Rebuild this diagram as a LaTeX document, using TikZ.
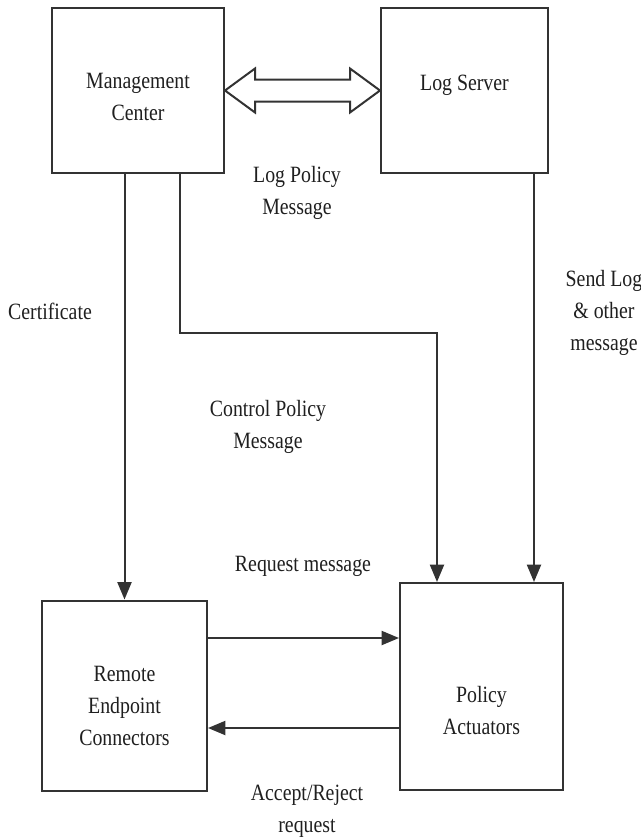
\documentclass[tikz,border=0pt]{standalone}
\usepackage{fontspec}
\setmainfont{Liberation Serif}[FakeStretch=0.85]
\usepackage{tikz}
\usetikzlibrary{arrows.meta,calc,positioning}
\definecolor{trazo}{rgb}{0.2,0.2,0.2}
\definecolor{tinta}{rgb}{0.12,0.12,0.12}
\tikzset{
  caja/.style={
    draw=trazo,
    line width=1.5pt,
    fill=white,
    inner sep=0pt
  },
  texto/.style={
    align=center,
    text=tinta,
    font=\fontsize{17.5}{24}\selectfont
  },
  flecha/.style={
    -{Triangle[length=13pt,width=10.5pt]},
    line width=1.5pt,
    trazo
  },
  doble/.style={
    draw=trazo,
    line width=1.5pt,
    fill=white,
    line join=miter
  }
}

\begin{document}
\begin{tikzpicture}[x=0.75pt,y=-0.75pt]
\useasboundingbox (0,0) rectangle (641,840);
% boxes
\node[caja,minimum width=129pt,minimum height=123.75pt,
  label={[texto,name=mct,yshift=-4.5pt]center:Management\\Center}] (mc) at (138,90.5) {};
\node[caja,minimum width=125.25pt,minimum height=123.75pt,
  label={[texto,name=lst,yshift=3.75pt]center:Log Server}] (ls) at (464.5,90.5) {};
\node[caja,minimum width=123.75pt,minimum height=142.5pt,
  label={[texto,name=rect,yshift=-7.5pt]center:Remote\\Endpoint\\Connectors}] (rec) at (124.5,695.5) {};
\node[caja,minimum width=122.25pt,minimum height=155.25pt,
  label={[texto,name=pat,yshift=-18pt]center:Policy\\Actuators}] (pa) at (481.5,686.5) {};
% double arrow between the top boxes
\draw[doble] (mc.east) -- ++(30,-22) -- ++(0,11) -- ($(ls.west)+(-30,-11)$) -- ++(0,-11)
  -- (ls.west) -- ++(-30,22) -- ++(0,-11) -- ($(mc.east)+(30,11)$) -- ++(0,11) -- cycle;
% connectors
\coordinate (lpA) at (180,333);
\coordinate (lpB) at (437,333);
\coordinate (sl) at (534,0);
\coordinate (req) at (0,638);
\coordinate (acc) at (0,728);
\draw[flecha] (mc.south -| rec.north) -- (rec.north);
\draw[flecha] (mc.south -| lpA) -- (lpA) -- (lpB) -- (lpB |- pa.north);
\draw[flecha] (ls.south -| sl) -- (sl |- pa.north);
\draw[flecha] (rec.east |- req) -- (pa.west |- req);
\draw[flecha] (pa.west |- acc) -- (rec.east |- acc);
% labels
\node[texto] (lpm) at (297,193) {Log Policy\\Message};
\node[texto] (cert) at (50,311) {Certificate};
\node[texto] (slm) at (604,313) {Send Log\\\& other\\message};
\node[texto] (cpm) at (268,427) {Control Policy\\Message};
\node[texto] (rqm) at (303,566) {Request message};
\node[texto] (arr) at (307,811) {Accept/Reject\\request};
\end{tikzpicture}
\end{document}
